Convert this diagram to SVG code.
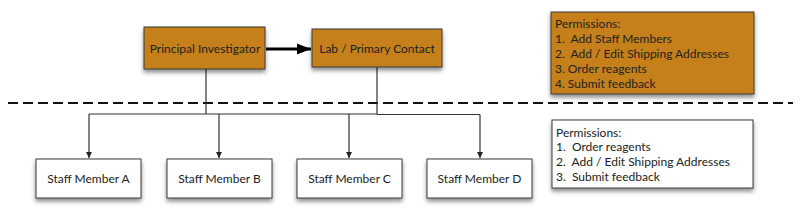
<svg xmlns="http://www.w3.org/2000/svg" width="800" height="216" viewBox="0 0 800 216">
<style>
text{font-family:"Lato","Open Sans","DejaVu Sans",sans-serif;font-size:12px;fill:#222}
.c{text-anchor:middle}
.p{white-space:pre}
.org{fill:#C5801F;stroke:#3a3a3a;stroke-width:1}
.wht{fill:#fff;stroke:#3a3a3a;stroke-width:1}
.ln{stroke:#333;stroke-width:1.2;fill:none}
</style>
<defs>
<filter id="sh" x="-10%" y="-20%" width="130%" height="160%">
<feDropShadow dx="0" dy="3" stdDeviation="2" flood-color="#000" flood-opacity="0.45"/>
</filter>
<marker id="ah" viewBox="0 0 10 10" refX="10" refY="5" markerWidth="6" markerHeight="8" markerUnits="userSpaceOnUse" orient="auto">
<path d="M0,0L10,5L0,10z" fill="#222"/>
</marker>
<marker id="ahb" viewBox="0 0 10 10" refX="10" refY="5" markerWidth="14" markerHeight="14" markerUnits="userSpaceOnUse" orient="auto">
<path d="M0,1L10,5L0,9z" fill="#000"/>
</marker>
</defs>
<line x1="8" y1="103" x2="793" y2="103" stroke="#111" stroke-width="2" stroke-dasharray="10,5"/>
<g id="connectors">
<line class="ln" x1="206" y1="69" x2="206" y2="114"/>
<line class="ln" x1="377" y1="67" x2="377" y2="114"/>
<line class="ln" x1="89" y1="114" x2="377" y2="114"/>
<line class="ln" x1="377" y1="114.5" x2="480" y2="114.5"/>
<line class="ln" x1="89" y1="114" x2="89" y2="158" marker-end="url(#ah)"/>
<line class="ln" x1="219" y1="114" x2="219" y2="158" marker-end="url(#ah)"/>
<line class="ln" x1="349" y1="114" x2="349" y2="158" marker-end="url(#ah)"/>
<line class="ln" x1="480" y1="114.5" x2="480" y2="158" marker-end="url(#ah)"/>
<line x1="266" y1="49" x2="311" y2="49" stroke="#000" stroke-width="3" marker-end="url(#ahb)"/>
</g>
<g id="pi">
<rect class="org" x="144" y="27" width="121" height="42" filter="url(#sh)"/>
<text class="c" x="205" y="53">Principal Investigator</text>
</g>
<g id="lab">
<rect class="org" x="312" y="29" width="130" height="38" filter="url(#sh)"/>
<text class="c" x="377" y="53">Lab / Primary Contact</text>
</g>
<g id="perm-top">
<rect class="org" x="551" y="12" width="203" height="82" filter="url(#sh)"/>
<text x="555" y="28">Permissions:</text>
<text class="p" x="555" y="43">1.  Add Staff Members</text>
<text class="p" x="555" y="58">2.  Add / Edit Shipping Addresses</text>
<text x="555" y="73">3. Order reagents</text>
<text x="555" y="88">4. Submit feedback</text>
</g>
<g id="perm-bottom">
<rect class="wht" x="552" y="120" width="201" height="68" filter="url(#sh)"/>
<text x="556" y="137">Permissions:</text>
<text class="p" x="556" y="151">1.  Order reagents</text>
<text class="p" x="556" y="166">2.  Add / Edit Shipping Addresses</text>
<text class="p" x="556" y="181">3.  Submit feedback</text>
</g>
<g id="staff-a">
<rect class="wht" x="36" y="159" width="105" height="39" filter="url(#sh)"/>
<text class="c" x="88.5" y="183">Staff Member A</text>
</g>
<g id="staff-b">
<rect class="wht" x="167" y="159" width="105" height="39" filter="url(#sh)"/>
<text class="c" x="219.5" y="183">Staff Member B</text>
</g>
<g id="staff-c">
<rect class="wht" x="297" y="159" width="105" height="39" filter="url(#sh)"/>
<text class="c" x="349.5" y="183">Staff Member C</text>
</g>
<g id="staff-d">
<rect class="wht" x="427" y="159" width="105" height="39" filter="url(#sh)"/>
<text class="c" x="479.5" y="183">Staff Member D</text>
</g>
</svg>
